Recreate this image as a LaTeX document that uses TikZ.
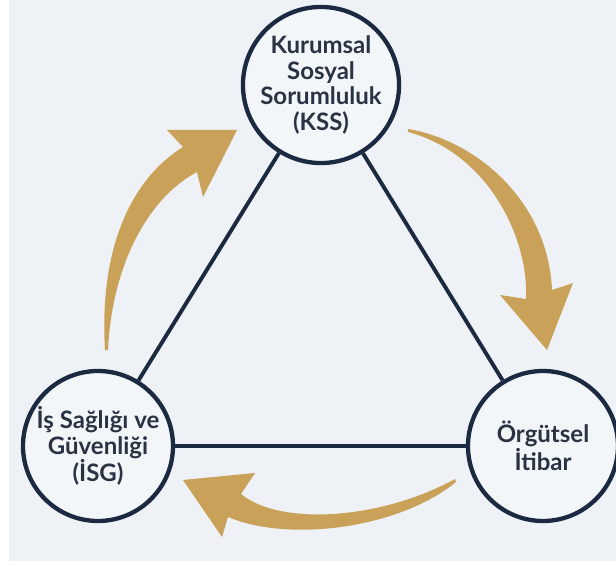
\documentclass[tikz,border=0pt]{standalone}
\usepackage{fontspec}
\setmainfont{Lato}
\definecolor{bg}{HTML}{EEF2F6}
\definecolor{navy}{HTML}{1B2A41}
\definecolor{txt}{HTML}{2A3344}
\definecolor{gold}{HTML}{C9A158}
\definecolor{cfill}{HTML}{F3F6F9}
\begin{document}
\begin{tikzpicture}[x=1pt,y=-1pt,
  hub/.style={circle, draw=navy, line width=4.3pt, fill=cfill, minimum size=150pt,
    inner sep=0pt, align=center, text=txt,
    font=\bfseries\fontsize{24}{25.5}\selectfont},
  link/.style={draw=navy, line width=3.9pt},
  goldarrow/.style={fill=gold, draw=none}]
\path[use as bounding box] (0,0) rectangle (616,567);
\fill[white] (0,0) rectangle (616,567);
\fill[bg] (9,0) rectangle (616,561);
% arrows
\fill[goldarrow] (408,129) .. controls (475,140) and (548,200) .. (552,290)
  -- (573,283) -- (547,350) -- (500,295) -- (526,299)
  .. controls (529,238) and (488,153) .. (408,132) -- cycle;
\fill[goldarrow] (455,479) .. controls (380,520) and (280,526) .. (241,494)
  -- (255,473) -- (183,480) -- (222,537) -- (228,517)
  .. controls (290,543) and (400,528) .. (456,482) -- cycle;
\fill[goldarrow] (105,350) .. controls (99,250) and (130,180) .. (183,147)
  -- (167,130) -- (237,130) -- (203,197) -- (197,172)
  .. controls (148,198) and (112,265) .. (108,350) -- cycle;
% nodes
\node[hub] (kss) at (321,85) {Kurumsal\\Sosyal\\Sorumluluk\\(KSS)};
\node[hub] (isg) at (98,446) {İş Sağlığı ve\\Güvenliği\\(İSG)};
\node[hub] (itb) at (543,446) {Örgütsel\\İtibar};
% links
\draw[link] (kss) -- (isg);
\draw[link] (kss) -- (itb);
\draw[link] (isg) -- (itb);
\end{tikzpicture}
\end{document}
